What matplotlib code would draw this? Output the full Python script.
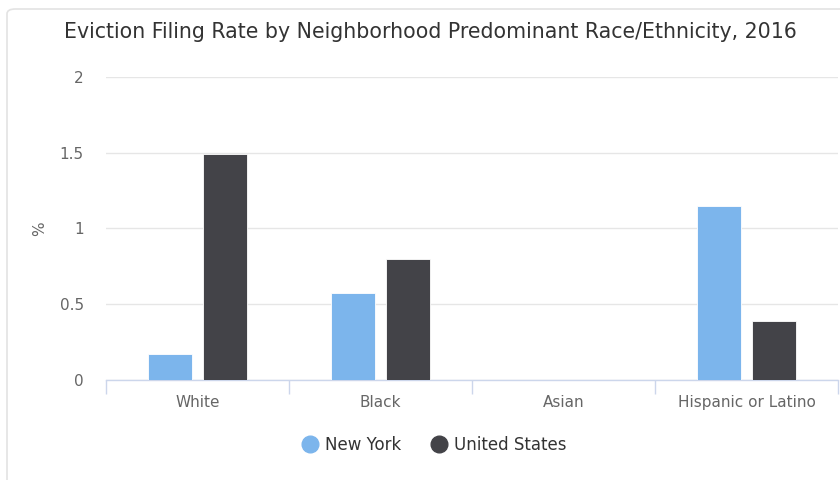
import matplotlib
matplotlib.use("Agg")
import matplotlib.pyplot as plt
import numpy as np
from matplotlib.patches import FancyBboxPatch
from matplotlib.lines import Line2D

categories = ["White", "Black", "Asian", "Hispanic or Latino"]
new_york = [0.17, 0.57, 0.0, 1.15]
united_states = [1.49, 0.80, 0.0, 0.39]
series_names = ["New York", "United States"]
y_ticks = [0, 0.5, 1, 1.5, 2]
y_tick_labels = ["0", "0.5", "1", "1.5", "2"]

ny_color = "#7cb5ec"
us_color = "#434348"
text_color = "#666666"

plt.rcParams["font.family"] = ["DejaVu Sans"]

fig = plt.figure(figsize=(8.4, 4.8), dpi=100)

# container border with rounded corner, kept behind the axes
border = FancyBboxPatch((7 / 840, -0.05), 1.2, 1 - 9 / 480 + 0.05,
                        boxstyle="round,pad=0,rounding_size=0.01",
                        transform=fig.transFigure, facecolor="white",
                        edgecolor="#e3e3e3", linewidth=1.2, zorder=-5)
fig.patches.append(border)

ax = fig.add_axes([106 / 840, 1 - 379.5 / 480, (838 - 106) / 840, (379.5 - 77) / 480])
ax.set_facecolor("none")

x = np.arange(len(categories))
width = 0.24
offset = 0.15
ax.bar(x - offset, new_york, width, color=ny_color, edgecolor="white", linewidth=0.6, zorder=3)
ax.bar(x + offset, united_states, width, color=us_color, edgecolor="white", linewidth=0.6, zorder=3)

ax.set_xlim(-0.5, len(categories) - 0.5)
ax.set_ylim(0, 2)
ax.set_yticks(y_ticks)
ax.set_yticklabels(y_tick_labels)
ax.yaxis.grid(True, color="#e6e6e6", linewidth=1)
ax.set_axisbelow(True)

for s in ["top", "right", "left"]:
    ax.spines[s].set_visible(False)
ax.spines["bottom"].set_color("#ccd6eb")
ax.spines["bottom"].set_linewidth(1)

ax.tick_params(axis="y", length=0, pad=16, labelsize=11, labelcolor=text_color)
ax.set_xticks(x)
ax.set_xticklabels(categories)
ax.tick_params(axis="x", length=0, pad=11, labelsize=11, labelcolor=text_color)
# category boundary ticks
ax.set_xticks(np.arange(len(categories) + 1) - 0.5, minor=True)
ax.tick_params(axis="x", which="minor", length=10, color="#ccd6eb", width=1)

ax.set_ylabel("%", color=text_color, fontsize=11, labelpad=9)

fig.text(430 / 840, 1 - 32 / 480, "Eviction Filing Rate by Neighborhood Predominant Race/Ethnicity, 2016",
         ha="center", va="center", fontsize=14.8, color="#333333")

handles = [Line2D([], [], marker="o", linestyle="none", markersize=12, color=ny_color),
           Line2D([], [], marker="o", linestyle="none", markersize=12, color=us_color)]
leg = fig.legend(handles, series_names, loc="center", bbox_to_anchor=(434 / 840, 1 - 445 / 480),
                 ncol=2, frameon=False, fontsize=12, handletextpad=0.4, columnspacing=1.8,
                 handlelength=1.0)
for t in leg.get_texts():
    t.set_color("#333333")

fig.savefig("out.png", dpi=100)
